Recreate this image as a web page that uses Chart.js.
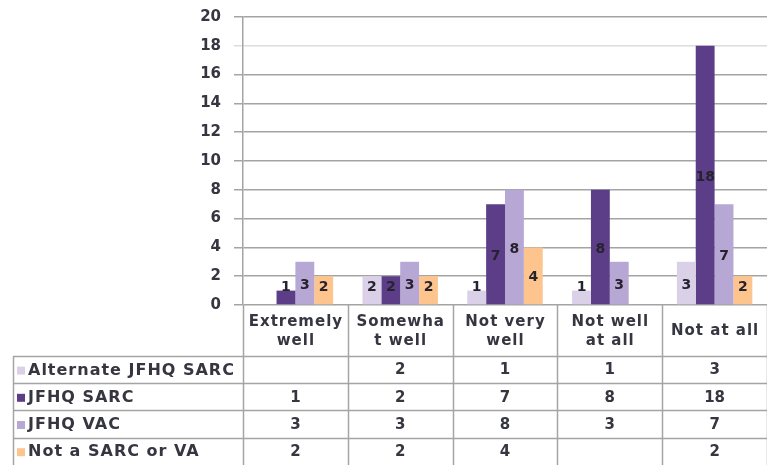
<!DOCTYPE html>
<html>
<head>
<meta charset="utf-8">
<script src="https://cdn.jsdelivr.net/npm/chart.js@4/dist/chart.umd.min.js"></script>
<style>
  html, body { margin: 0; padding: 0; background: #fff; }
  #chart { display: block; }
</style>
</head>
<body>
<canvas id="chart" width="767" height="465"></canvas>
<script>
// categories (as shown in the table header, line by line)
const categories = [
    ["Extremely", "well"],
    ["Somewha", "t well"],
    ["Not very", "well"],
    ["Not well", "at all"],
    ["Not at all"]
];

// series
const seriesNames = ["Alternate JFHQ SARC", "JFHQ SARC", "JFHQ VAC", "Not a SARC or VA"];
const alternateSarc = [null, 2, 1, 1, 3];
const jfhqSarc = [1, 2, 7, 8, 18];
const jfhqVac = [3, 3, 8, 3, 7];
const notSarcOrVa = [2, 2, 4, null, 2];
const seriesColors = ["#dad1e9", "#5c3e88", "#b7a7d5", "#fdc58d"];

// y axis ticks
const yMin = 0;
const yMax = 20;
const yStep = 2;

const FONT = "'DejaVu Sans', sans-serif";
const TEXT = "#363640";
const GRID = "#a4a4a4";

// draws the value in the middle of every bar (kept above the axis for short bars)
const barLabels = {
    id: 'barLabels',
    afterDatasetsDraw(chart) {
        const ctx = chart.ctx;
        ctx.save();
        ctx.font = "bold 14px " + FONT;
        ctx.fillStyle = "#26222e";
        ctx.textAlign = "center";
        ctx.textBaseline = "middle";
        chart.data.datasets.forEach((ds, di) => {
            const meta = chart.getDatasetMeta(di);
            meta.data.forEach((bar, i) => {
                const v = ds.data[i];
                if (v === null || v === undefined) return;
                const mid = (bar.y + bar.base) / 2 + 2;
                const y = Math.min(mid, bar.base - 17);
                ctx.fillText(String(v), bar.x, y);
            });
        });
        ctx.restore();
    }
};

// data table under the plot, lined up with the x scale
const dataTable = {
    id: 'dataTable',
    afterDraw(chart) {
        const ctx = chart.ctx;
        const xs = chart.scales.x;
        const area = chart.chartArea;
        const n = chart.data.labels.length;
        const step = xs.getPixelForValue(1) - xs.getPixelForValue(0);
        const top = area.bottom;
        const headerH = 51;
        const rowH = 27.2;
        const legendLeft = 13;
        const bottom = chart.height;
        const rowsTop = top + headerH;

        ctx.save();
        ctx.strokeStyle = GRID;
        ctx.lineWidth = 1.5;

        // vertical borders of the category columns
        for (let i = 0; i <= n; i++) {
            const x = Math.round(xs.getPixelForValue(0) - step / 2 + i * step) + 0.5;
            ctx.beginPath();
            ctx.moveTo(x, top);
            ctx.lineTo(x, bottom);
            ctx.stroke();
        }
        // left border of the legend column
        ctx.beginPath();
        ctx.moveTo(legendLeft + 0.5, rowsTop);
        ctx.lineTo(legendLeft + 0.5, bottom);
        ctx.stroke();
        // row lines
        chart.data.datasets.forEach((ds, r) => {
            const y = Math.round(rowsTop + r * rowH) + 0.5;
            ctx.beginPath();
            ctx.moveTo(legendLeft, y);
            ctx.lineTo(chart.width, y);
            ctx.stroke();
        });

        // header labels
        ctx.fillStyle = TEXT;
        ctx.font = "bold 15px " + FONT;
        ctx.letterSpacing = "1px";
        ctx.textAlign = "center";
        ctx.textBaseline = "middle";
        const lineH = 19;
        chart.data.labels.forEach((lab, i) => {
            const lines = Array.isArray(lab) ? lab : [lab];
            const cx = xs.getPixelForValue(i) + 0.5;
            const cy = top + headerH / 2 + 1;
            lines.forEach((t, k) => {
                ctx.fillText(t, cx, cy + (k - (lines.length - 1) / 2) * lineH);
            });
        });

        // rows: legend key + values
        chart.data.datasets.forEach((ds, r) => {
            const cy = rowsTop + r * rowH + rowH / 2 + 1;
            ctx.fillStyle = ds.backgroundColor;
            ctx.fillRect(legendLeft + 4, cy - 4, 8, 8);
            ctx.fillStyle = TEXT;
            ctx.font = "bold 16px " + FONT;
            ctx.letterSpacing = "1px";
            ctx.textAlign = "left";
            ctx.fillText(ds.label, legendLeft + 15, cy);
            ctx.font = "bold 15px " + FONT;
            ctx.letterSpacing = "0px";
            ctx.textAlign = "center";
            ds.data.forEach((v, i) => {
                if (v === null || v === undefined) return;
                ctx.fillText(String(v), xs.getPixelForValue(i), cy);
            });
        });
        ctx.restore();
    }
};

const seriesData = [alternateSarc, jfhqSarc, jfhqVac, notSarcOrVa];

new Chart(document.getElementById('chart').getContext('2d'), {
    type: 'bar',
    data: {
        labels: categories,
        datasets: seriesNames.map((name, i) => ({
            label: name,
            data: seriesData[i],
            backgroundColor: seriesColors[i],
            borderWidth: 0,
            barPercentage: 1,
            categoryPercentage: 0.72
        }))
    },
    options: {
        responsive: false,
        animation: false,
        devicePixelRatio: 1,
        layout: { padding: { top: 17, bottom: 160, left: 0, right: 0 } },
        plugins: {
            legend: { display: false },
            tooltip: { enabled: false }
        },
        scales: {
            x: { display: false },
            y: {
                min: yMin,
                max: yMax,
                ticks: {
                    stepSize: yStep,
                    padding: 13,
                    color: TEXT,
                    font: { family: FONT, size: 15, weight: 'bold' }
                },
                grid: {
                    color: ctx => ctx.tick && ctx.tick.value === 18 ? '#dcdcdc' : GRID,
                    lineWidth: 1.5,
                    tickLength: 9
                },
                border: { display: true, color: GRID, width: 1.5 },
                afterFit(scale) {
                    scale.width = 243;
                    scale.paddingTop = 0;
                    scale.paddingBottom = 0;
                }
            }
        }
    },
    plugins: [barLabels, dataTable]
});
</script>
</body>
</html>
